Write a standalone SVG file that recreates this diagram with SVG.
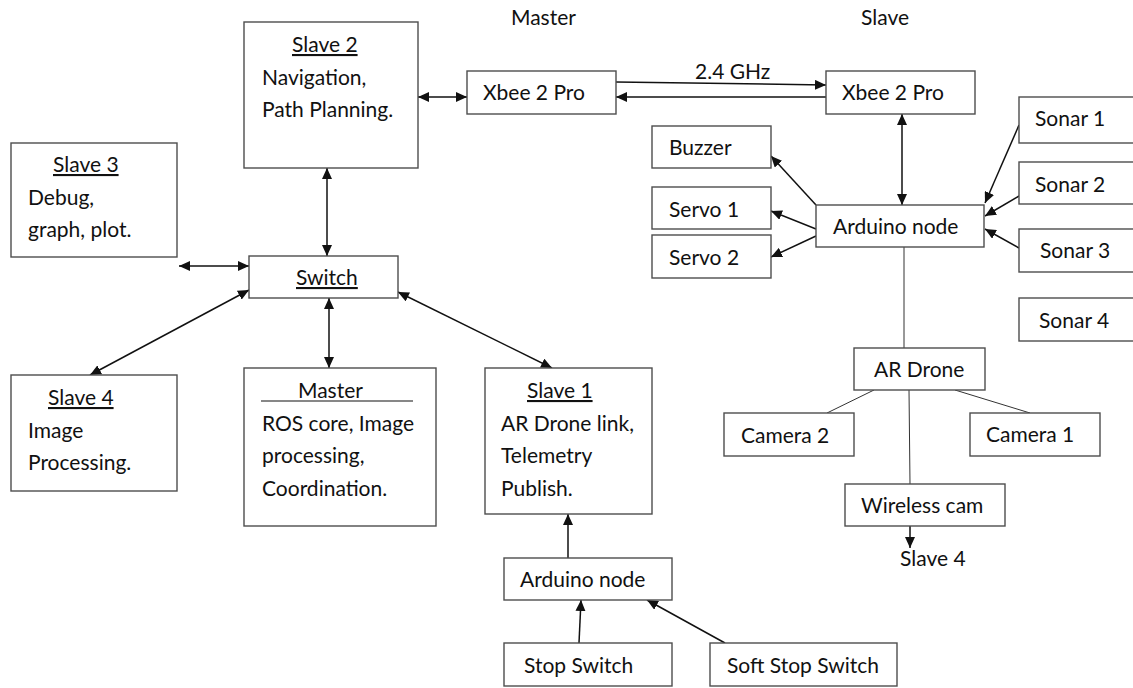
<svg xmlns="http://www.w3.org/2000/svg" width="1133" height="688" viewBox="0 0 1133 688">
<style>
  .box { fill: #ffffff; stroke: #4d4d4d; stroke-width: 1.4; }
  .t { font-family: Lato, "Open Sans", "Liberation Sans", sans-serif; font-size: 21px; fill: #111111; }
  .u { text-decoration: underline; }
  .arr { stroke: #111111; stroke-width: 1.5; fill: none; }
  .thin { stroke: #333333; stroke-width: 1; fill: none; }
</style>
<defs>
  <marker id="ah" viewBox="0 0 11 10" refX="11" refY="5" markerWidth="11" markerHeight="10" markerUnits="userSpaceOnUse" orient="auto-start-reverse">
    <path d="M0,0 L11,5 L0,10 z" fill="#111111"/>
  </marker>
</defs>
<rect width="1133" height="688" fill="#ffffff"/>

<g id="labels">
  <text class="t" x="511" y="25">Master</text>
  <text class="t" x="861" y="25">Slave</text>
  <text class="t" x="695" y="79">2.4 GHz</text>
  <text class="t" x="900" y="566">Slave 4</text>
</g>

<g id="connectors">
  <line class="arr" x1="418" y1="97" x2="467" y2="97" marker-start="url(#ah)" marker-end="url(#ah)"/>
  <line class="arr" x1="616" y1="82" x2="826" y2="85" marker-end="url(#ah)"/>
  <line class="arr" x1="826" y1="97" x2="616" y2="97" marker-end="url(#ah)"/>
  <line class="arr" x1="327" y1="168" x2="327" y2="256" marker-start="url(#ah)" marker-end="url(#ah)"/>
  <line class="arr" x1="179" y1="266" x2="249" y2="266" marker-start="url(#ah)" marker-end="url(#ah)"/>
  <line class="arr" x1="249" y1="290" x2="90" y2="375" marker-start="url(#ah)" marker-end="url(#ah)"/>
  <line class="arr" x1="329" y1="298" x2="329" y2="368" marker-start="url(#ah)" marker-end="url(#ah)"/>
  <line class="arr" x1="398" y1="292" x2="552" y2="368" marker-start="url(#ah)" marker-end="url(#ah)"/>
  <line class="arr" x1="568" y1="558" x2="568" y2="514" marker-end="url(#ah)"/>
  <line class="arr" x1="579" y1="643" x2="581" y2="600" marker-end="url(#ah)"/>
  <line class="arr" x1="725" y1="643" x2="647" y2="600" marker-end="url(#ah)"/>
  <line class="arr" x1="902" y1="114" x2="902" y2="205" marker-start="url(#ah)" marker-end="url(#ah)"/>
  <line class="arr" x1="816" y1="205" x2="771" y2="156" marker-end="url(#ah)"/>
  <line class="arr" x1="816" y1="229" x2="771" y2="211" marker-end="url(#ah)"/>
  <line class="arr" x1="816" y1="236" x2="771" y2="257" marker-end="url(#ah)"/>
  <line class="arr" x1="1019" y1="125" x2="985" y2="203" marker-end="url(#ah)"/>
  <line class="arr" x1="1019" y1="196" x2="985" y2="216" marker-end="url(#ah)"/>
  <line class="arr" x1="1019" y1="248" x2="985" y2="229" marker-end="url(#ah)"/>
  <line class="thin" x1="904" y1="247" x2="904" y2="348"/>
  <line class="thin" x1="874" y1="390" x2="827" y2="413"/>
  <line class="thin" x1="955" y1="390" x2="1030" y2="413"/>
  <line class="thin" x1="909" y1="390" x2="910" y2="484"/>
  <line class="arr" x1="910" y1="526" x2="910" y2="548" marker-end="url(#ah)"/>
</g>

<g id="slave2">
  <rect class="box" x="244" y="22" width="174" height="146"/>
  <text class="t u" x="292" y="52">Slave 2</text>
  <text class="t" x="262" y="85">Navigation,</text>
  <text class="t" x="262" y="117">Path Planning.</text>
</g>
<g id="slave3">
  <rect class="box" x="11" y="143" width="166" height="114"/>
  <text class="t u" x="53" y="172">Slave 3</text>
  <text class="t" x="28" y="205">Debug,</text>
  <text class="t" x="28" y="237">graph, plot.</text>
</g>
<g id="switch">
  <rect class="box" x="249" y="256" width="149" height="42"/>
  <text class="t u" x="296" y="285">Switch</text>
</g>
<g id="slave4">
  <rect class="box" x="11" y="375" width="166" height="116"/>
  <text class="t u" x="48" y="405">Slave 4</text>
  <text class="t" x="28" y="438">Image</text>
  <text class="t" x="28" y="470">Processing.</text>
</g>
<g id="master">
  <rect class="box" x="244" y="368" width="192" height="158"/>
  <text class="t" x="298" y="398">Master</text>
  <line x1="261" y1="401" x2="413" y2="401" stroke="#111111" stroke-width="1.2"/>
  <text class="t" x="262" y="431">ROS core, Image</text>
  <text class="t" x="262" y="463">processing,</text>
  <text class="t" x="262" y="496">Coordination.</text>
</g>
<g id="slave1">
  <rect class="box" x="485" y="368" width="167" height="146"/>
  <text class="t u" x="527" y="398">Slave 1</text>
  <text class="t" x="501" y="431">AR Drone link,</text>
  <text class="t" x="501" y="463">Telemetry</text>
  <text class="t" x="501" y="496">Publish.</text>
</g>
<g id="arduino-master">
  <rect class="box" x="504" y="558" width="168" height="42"/>
  <text class="t" x="520" y="587">Arduino node</text>
</g>
<g id="stop-switch">
  <rect class="box" x="504" y="643" width="168" height="43"/>
  <text class="t" x="524" y="673">Stop Switch</text>
</g>
<g id="soft-stop-switch">
  <rect class="box" x="710" y="643" width="187" height="43"/>
  <text class="t" x="727" y="673">Soft Stop Switch</text>
</g>
<g id="xbee-master">
  <rect class="box" x="467" y="71" width="149" height="43"/>
  <text class="t" x="483" y="100">Xbee 2 Pro</text>
</g>
<g id="xbee-slave">
  <rect class="box" x="826" y="71" width="149" height="43"/>
  <text class="t" x="842" y="100">Xbee 2 Pro</text>
</g>
<g id="buzzer">
  <rect class="box" x="652" y="126" width="119" height="42"/>
  <text class="t" x="669" y="155">Buzzer</text>
</g>
<g id="servo1">
  <rect class="box" x="652" y="187" width="119" height="42"/>
  <text class="t" x="669" y="217">Servo 1</text>
</g>
<g id="servo2">
  <rect class="box" x="652" y="235" width="119" height="43"/>
  <text class="t" x="669" y="265">Servo 2</text>
</g>
<g id="arduino-slave">
  <rect class="box" x="816" y="205" width="168" height="42"/>
  <text class="t" x="833" y="234">Arduino node</text>
</g>
<g id="sonar1">
  <rect class="box" x="1019" y="97" width="120" height="46"/>
  <text class="t" x="1035" y="126">Sonar 1</text>
</g>
<g id="sonar2">
  <rect class="box" x="1019" y="162" width="120" height="42"/>
  <text class="t" x="1035" y="192">Sonar 2</text>
</g>
<g id="sonar3">
  <rect class="box" x="1019" y="229" width="120" height="43"/>
  <text class="t" x="1040" y="258">Sonar 3</text>
</g>
<g id="sonar4">
  <rect class="box" x="1019" y="298" width="120" height="43"/>
  <text class="t" x="1039" y="328">Sonar 4</text>
</g>
<g id="ar-drone">
  <rect class="box" x="854" y="348" width="131" height="42"/>
  <text class="t" x="874" y="377">AR Drone</text>
</g>
<g id="camera2">
  <rect class="box" x="724" y="413" width="130" height="43"/>
  <text class="t" x="741" y="443">Camera 2</text>
</g>
<g id="camera1">
  <rect class="box" x="970" y="413" width="130" height="43"/>
  <text class="t" x="986" y="442">Camera 1</text>
</g>
<g id="wireless-cam">
  <rect class="box" x="845" y="484" width="160" height="42"/>
  <text class="t" x="861" y="513">Wireless cam</text>
</g>
</svg>
